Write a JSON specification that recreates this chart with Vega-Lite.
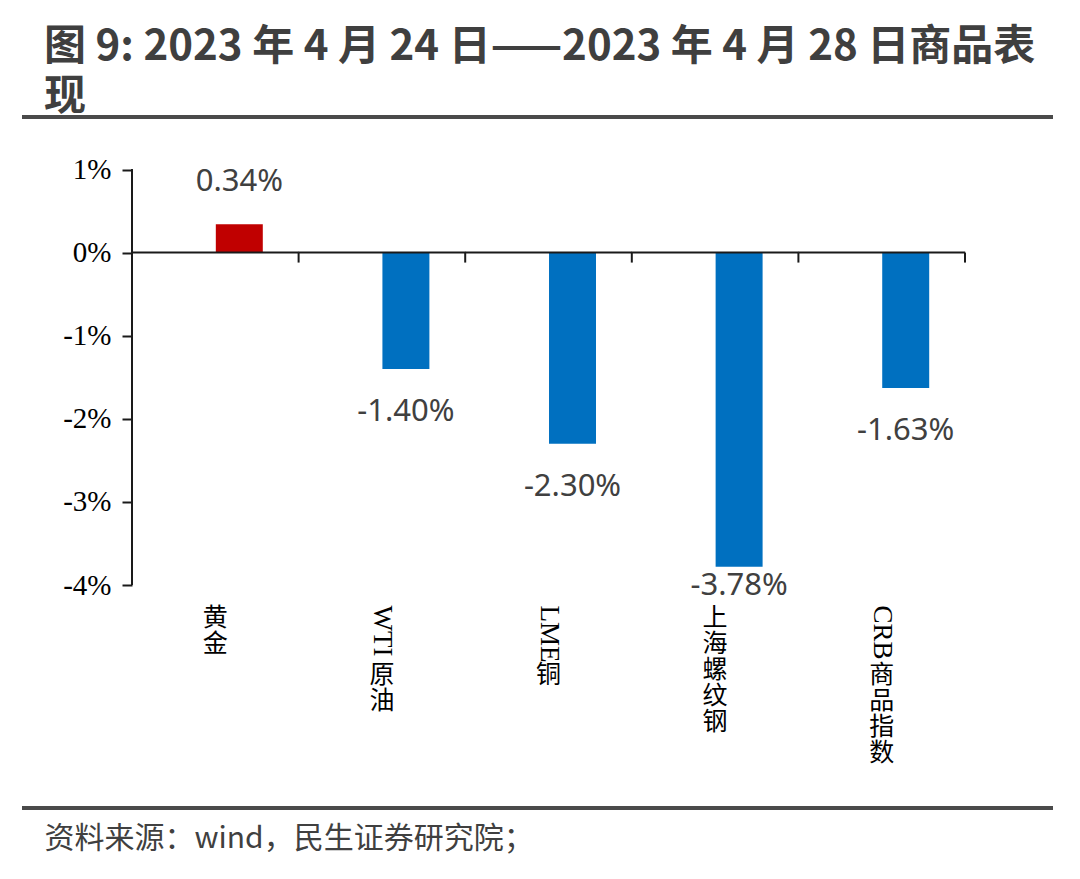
{
  "$schema": "https://vega.github.io/schema/vega-lite/v6.json",
  "width": 1031,
  "height": 691,
  "autosize": {"type": "none"},
  "padding": {"left": 22, "top": 117, "right": 27, "bottom": 71},
  "background": "white",
  "config": {
    "view": {"stroke": null},
    "locale": {"number": {"decimal": ".", "thousands": ",", "grouping": [3], "currency": ["$", ""], "minus": "-"}}
  },
  "title": {
    "text": ["图 9: 2023 年 4 月 24 日——2023 年 4 月 28 日商品表", "现"],
    "anchor": "start",
    "frame": "group",
    "dx": 22,
    "font": "Noto Sans CJK SC",
    "fontWeight": "bold",
    "fontSize": 42,
    "color": "#3f3f3f",
    "lineHeight": 50,
    "offset": -46,
    "baseline": "bottom"
  },
  "data": {
    "values": [
      {"name": "黄金", "value": 0.0034},
      {"name": "WTI原油", "value": -0.014},
      {"name": "LME铜", "value": -0.023},
      {"name": "上海螺纹钢", "value": -0.0378},
      {"name": "CRB商品指数", "value": -0.0163}
    ]
  },
  "resolve": {"axis": {"x": "independent"}},
  "layer": [
    {
      "mark": {"type": "bar", "width": {"band": 0.282}, "xOffset": 24},
      "encoding": {
        "x": {
          "field": "name", "type": "nominal", "sort": null,
          "scale": {"domain": ["黄金", "WTI原油", "LME铜", "上海螺纹钢", "CRB商品指数"], "paddingInner": 0, "paddingOuter": 0.5942, "align": 0.5556},
          "axis": {
            "orient": "bottom", "offset": -223, "domain": false, "ticks": false, "tickSize": 0, "grid": false, "title": null,
            "labelAngle": 90, "labelAlign": "left", "labelBaseline": "middle", "labelPadding": 20,
            "labelFont": "Liberation Serif", "labelFontSize": 27, "labelColor": "#000000",
            "labelExpr": "replace(datum.label, regexp('[^A-Za-z]', 'g'), '')"
          }
        },
        "y": {
          "field": "value", "type": "quantitative",
          "scale": {"domain": [-0.066835, 0.016318], "nice": false, "zero": false},
          "axis": {
            "orient": "left", "offset": -110, "values": [-0.04, -0.03, -0.02, -0.01, 0, 0.01], "format": ".0%",
            "domain": false, "grid": false, "ticks": true, "tickSize": 10, "tickWidth": 2, "tickColor": "#1a1a1a",
            "labelFont": "Liberation Serif", "labelFontSize": 29, "labelColor": "#000000", "labelPadding": 11, "title": null
          }
        },
        "color": {"condition": {"test": "datum.value > 0", "value": "#C00000"}, "value": "#0070C0"}
      }
    },
    {
      "transform": [{"filter": "datum.value > 0"}],
      "mark": {"type": "text", "dy": -42, "xOffset": 24, "font": "Noto Sans", "fontSize": 31, "color": "#404040", "baseline": "middle"},
      "encoding": {
        "x": {
          "field": "name", "type": "nominal", "sort": null,
          "axis": {
            "orient": "bottom", "offset": -223, "domain": false, "ticks": false, "tickSize": 0, "grid": false,
            "labelAngle": 0, "labelAlign": "center", "labelBaseline": "top", "labelPadding": 20,
            "labelFont": "Noto Sans CJK SC", "labelFontSize": 25, "labelLineHeight": 26, "labelColor": "#000000",
            "labelExpr": "test(regexp('[A-Za-z]'), datum.label) ? '' : split(datum.label, '')",
            "title": "资料来源：wind，民生证券研究院；",
            "titleFont": "Noto Sans CJK SC", "titleFontSize": 30, "titleFontWeight": "normal", "titleColor": "#404040",
            "titleAnchor": "start", "titleAlign": "left", "titleBaseline": "middle", "titleX": 22, "titleY": 253
          }
        },
        "y": {"field": "value", "type": "quantitative"},
        "text": {"field": "value", "type": "quantitative", "format": ".2%"}
      }
    },
    {
      "transform": [{"filter": "datum.value < 0 && datum.name != '上海螺纹钢'"}],
      "mark": {"type": "text", "dy": 43, "xOffset": 24, "font": "Noto Sans", "fontSize": 31, "color": "#404040", "baseline": "middle"},
      "encoding": {
        "x": {
          "field": "name", "type": "nominal", "sort": null,
          "axis": {
            "orient": "bottom", "offset": -223, "domain": false, "ticks": false, "tickSize": 0, "grid": false, "title": null,
            "labelAngle": 0, "labelAlign": "center", "labelBaseline": "top", "labelPadding": 77,
            "labelFont": "Noto Sans CJK SC", "labelFontSize": 25, "labelLineHeight": 26, "labelColor": "#000000",
            "labelExpr": "test(regexp('[A-Za-z]'), datum.label) ? split(replace(datum.label, regexp('[A-Za-z]', 'g'), ''), '') : ''"
          }
        },
        "y": {"field": "value", "type": "quantitative"},
        "text": {"field": "value", "type": "quantitative", "format": ".2%"}
      }
    },
    {
      "transform": [{"filter": "datum.name == '上海螺纹钢'"}],
      "mark": {"type": "text", "dy": 19, "xOffset": 24, "font": "Noto Sans", "fontSize": 31, "color": "#404040", "baseline": "middle"},
      "encoding": {
        "x": {"field": "name", "type": "nominal", "sort": null, "axis": null},
        "y": {"field": "value", "type": "quantitative"},
        "text": {"field": "value", "type": "quantitative", "format": ".2%"}
      }
    },
    {
      "mark": {"type": "rule", "color": "#1a1a1a", "strokeWidth": 2},
      "encoding": {
        "x": {"field": "name", "type": "nominal", "sort": null, "bandPosition": 1, "axis": null},
        "y": {"datum": 0},
        "y2": {"datum": -0.0012}
      }
    },
    {
      "mark": {"type": "tick", "size": 167, "thickness": 2, "color": "#1a1a1a", "opacity": 1},
      "encoding": {
        "x": {"field": "name", "type": "nominal", "sort": null, "axis": null},
        "y": {"datum": 0}
      }
    },
    {
      "mark": {"type": "rule", "color": "#1a1a1a", "strokeWidth": 2},
      "encoding": {
        "x": {"datum": "黄金", "type": "nominal", "bandPosition": 0, "axis": null},
        "y": {"datum": 0.01},
        "y2": {"datum": -0.04}
      }
    },
    {
      "mark": {"type": "rule", "color": "#4a4a4a", "strokeWidth": 4},
      "encoding": {"y": {"datum": 0.016318}}
    },
    {
      "mark": {"type": "rule", "color": "#4a4a4a", "strokeWidth": 4},
      "encoding": {"y": {"datum": -0.066835}}
    }
  ]
}
